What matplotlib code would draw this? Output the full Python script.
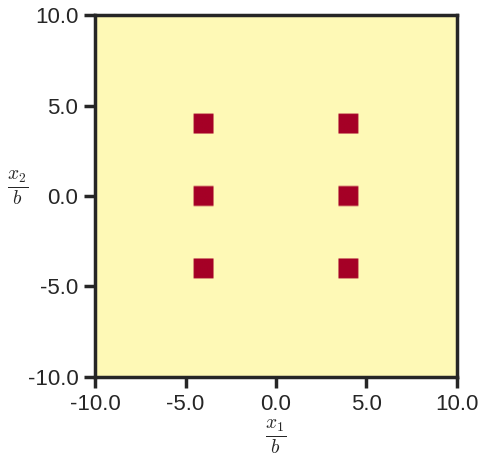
import numpy as np
import matplotlib
matplotlib.use("Agg")
import matplotlib.pyplot as plt
from matplotlib.ticker import FormatStrFormatter

# data
centers_x = [-4.0, 4.0]
centers_y = [-4.0, 0.0, 4.0]
half_width = 0.555
xticks = [-10.0, -5.0, 0.0, 5.0, 10.0]
yticks = [-10.0, -5.0, 0.0, 5.0, 10.0]

plt.rcParams['axes.unicode_minus'] = False
plt.rcParams['font.family'] = ['Liberation Sans', 'DejaVu Sans']
plt.rcParams['mathtext.fontset'] = 'cm'

n = 201
xs = np.linspace(-10, 10, n)
ys = np.linspace(-10, 10, n)
dx = xs[1] - xs[0]
X, Y = np.meshgrid(xs, ys)
Z = np.zeros_like(X)
for cx in centers_x:
    for cy in centers_y:
        Z[(np.abs(X - cx) <= half_width) & (np.abs(Y - cy) <= half_width)] = 1.0

fig = plt.figure(figsize=(4.85, 4.59), dpi=100)
ax = fig.add_axes([0.196, 0.179, 0.746, 0.788])
ax.imshow(Z, origin='lower', extent=[-10 - dx / 2, 10 + dx / 2, -10 - dx / 2, 10 + dx / 2],
          cmap='RdYlBu_r', vmin=-1.08, vmax=1, interpolation='bilinear', aspect='auto')
ax.set_xlim(-10, 10)
ax.set_ylim(-10, 10)
ax.set_xticks(xticks)
ax.set_yticks(yticks)
ax.xaxis.set_major_formatter(FormatStrFormatter('%.1f'))
ax.yaxis.set_major_formatter(FormatStrFormatter('%.1f'))
for s in ax.spines.values():
    s.set_linewidth(2.5)
    s.set_color('#262626')
ax.tick_params(direction='out', length=8, width=2.5, color='#262626',
               labelsize=16, labelcolor='#262626', pad=4)
ax.set_xlabel(r'$\frac{x_1}{b}$', fontsize=20, color='#262626', labelpad=2)
ax.set_ylabel(r'$\frac{x_2}{b}$', fontsize=20, color='#262626', rotation=0)
ax.yaxis.set_label_coords(-0.215, 0.47)

fig.savefig('out.png', dpi=100)
